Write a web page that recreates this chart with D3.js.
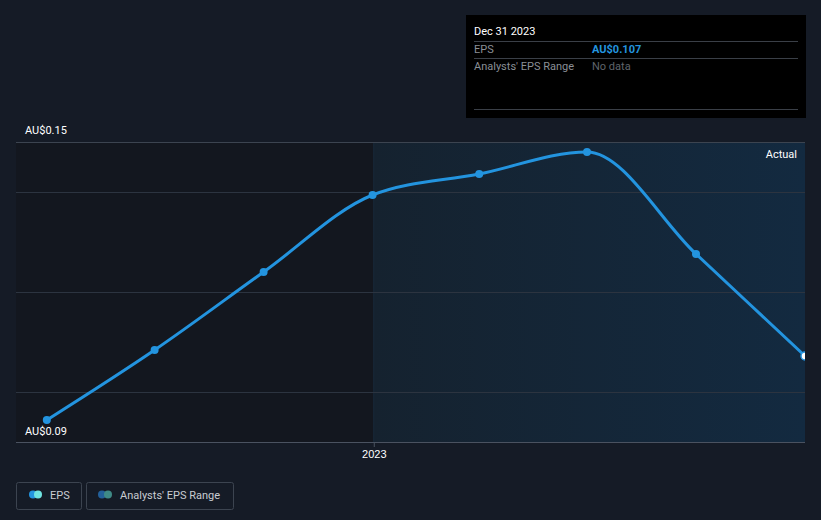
<!DOCTYPE html>
<html>
<head>
<meta charset="utf-8">
<script src="https://cdn.jsdelivr.net/npm/d3@7"></script>
<style>
html,body{margin:0;padding:0;background:#151b26;}
svg{display:block;font-family:Roboto,"Open Sans",sans-serif;}
</style>
</head>
<body>
<svg id="chart" width="821" height="520"></svg>
<script>
const dates = ["2022-03-31","2022-06-30","2022-09-30","2022-12-31","2023-03-31","2023-06-30","2023-09-30","2023-12-31"];
const eps = [0.0944, 0.1084, 0.1240, 0.1394, 0.1436, 0.1480, 0.1276, 0.1072];
const yTicks = [0.09, 0.15];
const gridValues = [0.10, 0.12, 0.14];
const xTickLabels = [{date:"2023-01-01", label:"2023"}];
const forecastStart = "2023-01-01";

const parse = d3.timeParse("%Y-%m-%d");
const data = dates.map((d,i)=>({date:parse(d), v:eps[i]}));

const svg = d3.select("#chart");
const L=16, R=805, T=142, B=442;

const x = d3.scaleTime().domain([parse("2022-03-05"), parse("2023-12-31")]).range([L,R]);
const y = d3.scaleLinear().domain([0.09,0.15]).range([B,T]);

const defs = svg.append("defs");
const grad = defs.append("linearGradient").attr("id","fg").attr("x1","0").attr("x2","1").attr("y1","0").attr("y2","0");
grad.append("stop").attr("offset","0").attr("stop-color","#15222f");
grad.append("stop").attr("offset","1").attr("stop-color","#132a40");
defs.append("clipPath").attr("id","clip").append("rect").attr("x",L).attr("y",0).attr("width",R-L).attr("height",520);

// plot backgrounds
const fx = x(parse(forecastStart));
svg.append("rect").attr("x",L).attr("y",T).attr("width",fx-L).attr("height",B-T).attr("fill","#13171f");
svg.append("rect").attr("x",fx).attr("y",T).attr("width",R-fx).attr("height",B-T).attr("fill","url(#fg)");
svg.append("line").attr("x1",fx).attr("x2",fx).attr("y1",T).attr("y2",B).attr("stroke","#182a3b").attr("stroke-width",1);

// grid
svg.append("g").selectAll("line").data(gridValues).join("line")
  .attr("x1",L).attr("x2",R).attr("y1",d=>Math.round(y(d))+0.5).attr("y2",d=>Math.round(y(d))+0.5)
  .attr("stroke","#2c3440").attr("stroke-width",1);
svg.append("line").attr("x1",L).attr("x2",R).attr("y1",T+0.5).attr("y2",T+0.5).attr("stroke","#3c4450");

// x axis
const xAxis = d3.axisBottom(x).tickValues(xTickLabels.map(d=>parse(d.date))).tickFormat((d,i)=>xTickLabels[i].label).tickSize(5).tickSizeOuter(0);
const gx = svg.append("g").attr("transform",`translate(0,${B})`).call(xAxis);
gx.select(".domain").attr("stroke","#4a5260").attr("d",`M${L},0.5H${R}`);
gx.selectAll(".tick line").attr("stroke","#4a5260");
gx.selectAll(".tick text").attr("fill","#ffffff").attr("font-size",11);

// y labels
svg.append("g").selectAll("text").data(yTicks).join("text")
  .attr("x",25).attr("y",d=> d===0.15 ? y(d)-8 : y(d)-7)
  .attr("fill","#ffffff").attr("font-size",11).text(d=>"AU$"+d.toFixed(2));

// Actual label
svg.append("text").attr("x",797).attr("y",158).attr("text-anchor","end").attr("fill","#ffffff").attr("font-size",11).text("Actual");

// line
const g = svg.append("g").attr("clip-path","url(#clip)");
g.append("path").datum(data)
  .attr("d", d3.line().x(d=>x(d.date)).y(d=>y(d.v)).curve(d3.curveMonotoneX))
  .attr("fill","none").attr("stroke","#2394df").attr("stroke-width",3);
g.selectAll("circle").data(data).join("circle")
  .attr("cx",d=>x(d.date)).attr("cy",d=>y(d.v))
  .attr("r",4)
  .attr("fill",(d,i)=> i===data.length-1 ? "#ffffff" : "#2394df")
  .attr("stroke",(d,i)=> i===data.length-1 ? "#2394df" : "none")
  .attr("stroke-width",1.5);

// tooltip
const last = data[data.length-1];
const tt = svg.append("g");
tt.append("rect").attr("x",466).attr("y",15).attr("width",340).attr("height",103).attr("fill","#000000");
tt.append("text").attr("x",474).attr("y",35).attr("fill","#ffffff").attr("font-size",11).text(d3.timeFormat("%b %d %Y")(last.date));
[41.5,58.5,109.5].forEach(yy=>tt.append("line").attr("x1",474).attr("x2",798).attr("y1",yy).attr("y2",yy).attr("stroke","#3a3f47"));
tt.append("text").attr("x",474).attr("y",53).attr("fill","#8a8f96").attr("font-size",11).text("EPS");
tt.append("text").attr("x",592).attr("y",53).attr("fill","#2394df").attr("font-size",11).attr("font-weight","bold").text("AU$"+last.v.toFixed(3));
tt.append("text").attr("x",474).attr("y",70).attr("fill","#8a8f96").attr("font-size",11).text("Analysts' EPS Range");
tt.append("text").attr("x",592).attr("y",70).attr("fill","#5f646b").attr("font-size",11).text("No data");

// legend
const leg = svg.append("g");
leg.append("rect").attr("x",16.5).attr("y",482.5).attr("width",65).attr("height",27).attr("rx",2).attr("fill","none").attr("stroke","#3c4450");
leg.append("circle").attr("cx",33).attr("cy",494.5).attr("r",4).attr("fill","#2394df");
leg.append("circle").attr("cx",38).attr("cy",494.5).attr("r",4).attr("fill","#6fe3e0");
leg.append("text").attr("x",50).attr("y",498.5).attr("fill","#c8ccd2").attr("font-size",11).text("EPS");
leg.append("rect").attr("x",86.5).attr("y",482.5).attr("width",147).attr("height",27).attr("rx",2).attr("fill","none").attr("stroke","#3c4450");
leg.append("circle").attr("cx",102).attr("cy",494.5).attr("r",4).attr("fill","#23609a");
leg.append("circle").attr("cx",108).attr("cy",494.5).attr("r",4).attr("fill","#3f8a86");
leg.append("text").attr("x",120).attr("y",498.5).attr("fill","#c8ccd2").attr("font-size",11).text("Analysts' EPS Range");
</script>
</body>
</html>
